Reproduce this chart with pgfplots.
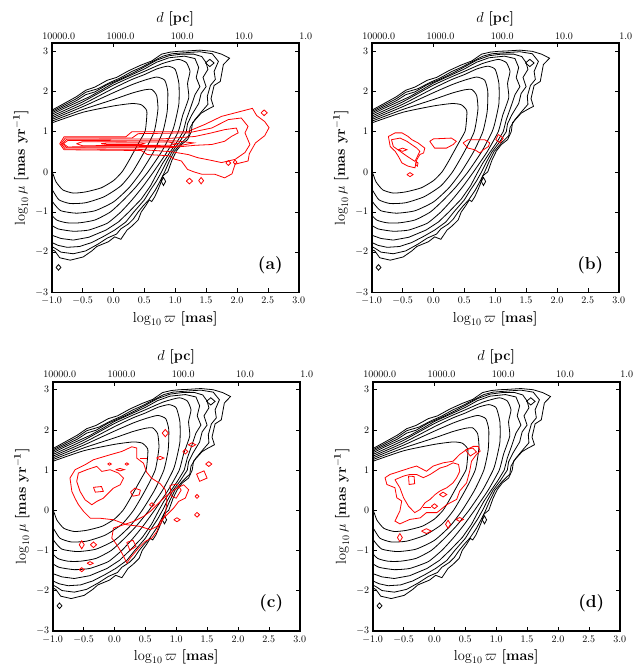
\documentclass[border=0pt]{standalone}
\usepackage{pgfplots}
\pgfplotsset{compat=1.18}
\pgfplotsset{
 base/.style={scale only axis, width=247pt, height=249pt, xmin=-1, xmax=3, ymin=-3, ymax=3.2,
   tick align=inside, major tick length=4pt, tick style={black, line width=0.6pt},
   axis line style={line width=1.6pt}, label style={font=\Large}},
 main/.style={base, xtick={-1,-0.5,...,3}, ytick={-3,-2,...,3}, xtick pos=left, ytick pos=both,
   xticklabel style={yshift=-1.5pt,/pgf/number format/.cd,fixed,fixed zerofill,precision=1},
   xlabel={$\log_{10}\varpi$ \textbf{[mas]}},
   ylabel={$\log_{10}\mu$ \textbf{[mas yr}$^{\mathbf{-1}}$\textbf{]}}},
 topax/.style={base, axis x line*=top, axis y line=none, xtick={-1,0,1,2,3},
   xticklabels={10000.0,1000.0,100.0,10.0,1.0}, xticklabel style={xshift=7pt},
   xlabel={$d$ \textbf{[pc]}}, tick align=inside},
 bc/.style={black, line width=0.8pt, mark=none},
 rc/.style={red, line width=0.8pt, mark=none},
}
\newcommand{\blackcontours}{%
\addplot[bc,smooth,tension=0.35] coordinates {(-1.05,1.19) (-0.5,1.48) (0,1.64) (0.3,1.70) (0.45,1.67) (0.54,1.52) (0.53,1.2) (0.51,1.0) (0.42,0.75) (0.33,0.5) (0.24,0.25) (0.14,0.0) (0.0,-0.22) (-0.2,-0.4) (-0.45,-0.5) (-0.65,-0.53) (-0.82,-0.45) (-0.93,-0.25) (-0.98,-0.05) (-1.05,0.15)};
\addplot[bc,smooth,tension=0.35] coordinates {(-1.05,1.23) (-0.5,1.55) (0,1.8) (0.3,1.96) (0.5,2.04) (0.62,2.05) (0.7,1.9) (0.72,1.55) (0.66,1.0) (0.5,0.5) (0.31,0.0) (0.12,-0.35) (-0.15,-0.62) (-0.45,-0.77) (-0.7,-0.79) (-0.88,-0.7) (-0.97,-0.5) (-1.05,-0.3)};
\addplot[bc,smooth,tension=0.35] coordinates {(-1.05,1.27) (-0.5,1.62) (0,1.97) (0.3,2.17) (0.5,2.28) (0.7,2.36) (0.83,2.28) (0.88,2.0) (0.87,1.5) (0.8,1.0) (0.65,0.5) (0.45,0.0) (0.25,-0.4) (0.0,-0.75) (-0.3,-0.97) (-0.6,-1.03) (-0.85,-0.97) (-0.96,-0.8) (-1.05,-0.6)};
\addplot[bc,smooth,tension=0.35] coordinates {(-1.05,1.31) (-0.5,1.68) (0,2.08) (0.3,2.3) (0.5,2.42) (0.7,2.56) (0.88,2.63) (1.0,2.55) (1.06,2.2) (1.06,1.7) (1.0,1.25) (0.95,1.0) (0.78,0.5) (0.56,0.0) (0.35,-0.4) (0.15,-0.72) (-0.05,-1.0) (-0.3,-1.2) (-0.55,-1.27) (-0.75,-1.27) (-0.92,-1.2) (-1.05,-1.0)};
\addplot[bc,smooth,tension=0.3] coordinates {(-1.05,1.35) (-0.5,1.74) (0,2.16) (0.3,2.37) (0.5,2.5) (0.8,2.7) (1.05,2.8) (1.18,2.72) (1.24,2.5) (1.2,2.2) (1.22,1.85) (1.12,1.4) (1.05,1.0) (0.87,0.5) (0.65,0.0) (0.47,-0.38) (0.3,-0.7) (0.12,-1.0) (-0.1,-1.28) (-0.4,-1.45) (-0.65,-1.48) (-0.9,-1.42) (-1.05,-1.28)};
\addplot[bc] coordinates {(-1.05,1.39) (-0.8,1.58) (-0.6,1.72) (-0.4,1.86) (-0.2,2.03) (0,2.21) (0.2,2.35) (0.5,2.56) (0.7,2.73) (0.9,2.84) (1.15,2.88) (1.32,2.82) (1.38,2.6) (1.34,2.35) (1.4,2.12) (1.32,1.92) (1.25,1.6) (1.18,1.3) (1.13,1.0) (1.02,0.72) (0.92,0.5) (0.8,0.22) (0.72,0.0) (0.6,-0.35) (0.45,-0.68) (0.25,-1.0) (0.08,-1.25) (-0.12,-1.45) (-0.4,-1.63) (-0.65,-1.7) (-0.85,-1.66) (-1.05,-1.55)};
\addplot[bc] coordinates {(-1.05,1.43) (-0.8,1.62) (-0.6,1.77) (-0.45,1.92) (-0.3,1.99) (-0.1,2.17) (0.1,2.3) (0.3,2.45) (0.5,2.61) (0.7,2.78) (0.9,2.89) (1.1,2.93) (1.3,2.93) (1.43,2.87) (1.5,2.72) (1.53,2.55) (1.45,2.35) (1.5,2.12) (1.42,1.95) (1.38,1.7) (1.27,1.42) (1.2,1.2) (1.18,1.0) (1.06,0.72) (0.95,0.5) (0.86,0.25) (0.78,0.0) (0.7,-0.22) (0.6,-0.45) (0.5,-0.7) (0.33,-1.0) (0.2,-1.25) (0.02,-1.45) (-0.15,-1.6) (-0.35,-1.76) (-0.55,-1.86) (-0.75,-1.88) (-0.9,-1.83) (-1.05,-1.72)};
\addplot[bc] coordinates {(-1.05,1.46) (-0.8,1.66) (-0.6,1.82) (-0.45,1.98) (-0.25,2.07) (-0.05,2.23) (0.1,2.33) (0.3,2.5) (0.45,2.6) (0.6,2.72) (0.8,2.88) (0.95,2.94) (1.2,2.97) (1.4,2.99) (1.6,2.94) (1.7,2.75) (1.63,2.5) (1.65,2.3) (1.57,2.15) (1.52,1.88) (1.53,1.68) (1.44,1.52) (1.32,1.3) (1.24,1.1) (1.22,0.9) (1.1,0.72) (0.98,0.5) (0.9,0.25) (0.83,0.0) (0.76,-0.22) (0.68,-0.45) (0.57,-0.7) (0.48,-0.85) (0.4,-1.0) (0.32,-1.18) (0.24,-1.3) (0.12,-1.42) (0.05,-1.55) (-0.1,-1.65) (-0.25,-1.8) (-0.45,-1.97) (-0.65,-2.04) (-0.85,-2.0) (-0.95,-1.9) (-1.05,-1.82)};
\addplot[bc] coordinates {(-1.05,1.49) (-0.8,1.7) (-0.6,1.87) (-0.45,2.03) (-0.3,2.11) (-0.1,2.28) (0.05,2.35) (0.25,2.52) (0.45,2.66) (0.62,2.76) (0.78,2.93) (0.92,2.98) (1.05,3.0) (1.2,3.01) (1.4,3.03) (1.6,3.0) (1.75,2.93) (1.88,2.83) (1.78,2.67) (1.73,2.25) (1.63,2.15) (1.58,1.82) (1.62,1.63) (1.52,1.55) (1.42,1.46) (1.28,1.22) (1.26,1.0) (1.2,0.8) (1.1,0.68) (1.02,0.52) (0.95,0.3) (0.88,0.0) (0.8,-0.1) (0.76,-0.3) (0.72,-0.45) (0.67,-0.62) (0.62,-0.74) (0.58,-0.7) (0.52,-0.85) (0.45,-1.0) (0.4,-1.2) (0.3,-1.35) (0.22,-1.45) (0.12,-1.68) (0.02,-1.62) (-0.08,-1.74) (-0.27,-1.86) (-0.35,-1.97) (-0.49,-2.12) (-0.7,-2.2) (-0.87,-2.14) (-0.95,-1.97) (-1.05,-1.9)};
\addplot[bc] coordinates {(1.49,2.71) (1.56,2.8) (1.63,2.71) (1.56,2.62) (1.49,2.71)};
\addplot[bc] coordinates {(0.775,-0.24) (0.81,-0.14) (0.845,-0.24) (0.81,-0.34) (0.775,-0.24)};
\addplot[bc] coordinates {(-0.93,-2.38) (-0.89,-2.31) (-0.85,-2.38) (-0.89,-2.45) (-0.93,-2.38)};
}
\newcommand{\rdiam}[4]{\addplot[rc] coordinates {(#1-#3,#2) (#1,#2+#4) (#1+#3,#2) (#1,#2-#4) (#1-#3,#2)};}
\begin{document}
\begin{tikzpicture}
\useasboundingbox (0pt,0pt) rectangle (634pt,-666pt);
% ---------- (a)
\begin{axis}[topax, at={(51.7pt,-43.3pt)}, anchor=north west]
\end{axis}
\begin{axis}[main, at={(51.7pt,-43.3pt)}, anchor=north west]
\blackcontours
\addplot[rc] coordinates {(-0.87,0.70) (-0.8,0.87) (0.2,0.87) (0.3,1.0) (1.2,1.0) (1.48,1.18) (1.75,1.38) (2.05,1.5) (2.25,1.58) (2.32,1.4) (2.45,1.25) (2.52,1.1) (2.45,0.9) (2.3,0.72) (2.2,0.45) (2.18,0.27) (1.97,0.19) (1.92,-0.05) (1.8,-0.15) (1.64,-0.06) (1.43,-0.06) (1.3,0.0) (1.2,0.06) (1.1,0.27) (0.98,0.32) (0.9,0.4) (0.55,0.43) (0.45,0.53) (-0.8,0.55) (-0.87,0.70)};
\addplot[rc] coordinates {(-0.85,0.70) (-0.78,0.84) (0.3,0.84) (0.4,0.95) (1.21,0.97) (1.59,1.09) (1.86,1.3) (2.07,1.34) (2.18,1.13) (2.13,0.97) (2.21,0.68) (2.13,0.48) (1.97,0.31) (1.75,0.23) (1.6,0.28) (1.37,0.35) (1.21,0.43) (0.94,0.5) (0.4,0.56) (-0.78,0.57) (-0.85,0.70)};
\addplot[rc] coordinates {(-0.83,0.70) (-0.76,0.81) (0.8,0.82) (1.32,0.88) (1.59,0.97) (1.8,1.05) (1.99,1.09) (2.02,0.97) (1.91,0.88) (1.8,0.76) (1.59,0.68) (1.32,0.66) (0.9,0.6) (-0.76,0.6) (-0.83,0.70)};
\addplot[rc] coordinates {(-0.81,0.70) (-0.74,0.78) (1.0,0.77) (1.3,0.72) (1.0,0.63) (-0.74,0.62) (-0.81,0.70)};
\addplot[rc] coordinates {(-0.6,0.70) (-0.5,0.75) (0.9,0.74) (1.05,0.7) (0.9,0.66) (-0.5,0.65) (-0.6,0.70)};
\addplot[rc] coordinates {(-0.2,0.70) (-0.1,0.72) (0.45,0.72) (0.5,0.70) (0.45,0.68) (-0.1,0.68) (-0.2,0.70)};
\rdiam{2.44}{1.47}{0.05}{0.07}
\rdiam{1.23}{-0.23}{0.05}{0.07}
\rdiam{1.42}{-0.22}{0.04}{0.08}
\rdiam{1.86}{0.22}{0.04}{0.06}
\rdiam{1.97}{0.24}{0.03}{0.05}
\node[font=\LARGE\bfseries] at (rel axis cs:0.885,0.11) {(a)};
\end{axis}
% ---------- (b)
\begin{axis}[topax, at={(371.7pt,-43.3pt)}, anchor=north west]
\end{axis}
\begin{axis}[main, at={(371.7pt,-43.3pt)}, anchor=north west]
\blackcontours
\addplot[rc] coordinates {(-0.73,0.88) (-0.70,0.63) (-0.62,0.51) (-0.57,0.39) (-0.51,0.22) (-0.41,0.14) (-0.30,0.10) (-0.27,0.30) (-0.22,0.43) (-0.16,0.47) (-0.14,0.59) (-0.25,0.72) (-0.35,0.80) (-0.41,0.88) (-0.51,0.97) (-0.62,0.97) (-0.73,0.88)};
\addplot[rc] coordinates {(-0.68,0.80) (-0.65,0.63) (-0.54,0.51) (-0.43,0.39) (-0.30,0.26) (-0.22,0.51) (-0.27,0.59) (-0.43,0.76) (-0.54,0.84) (-0.68,0.80)};
\addplot[rc] coordinates {(-0.57,0.55) (-0.5,0.59) (-0.43,0.55) (-0.5,0.51) (-0.57,0.55)};
\addplot[rc] coordinates {(-0.28,0.26) (-0.25,0.22) (-0.26,0.14) (-0.29,0.18) (-0.28,0.26)};
\rdiam{-0.38}{-0.07}{0.05}{0.05}
\addplot[rc] coordinates {(-0.06,0.76) (0.02,0.59) (0.21,0.59) (0.32,0.68) (0.37,0.76) (0.29,0.84) (0.0,0.82) (-0.06,0.76)};
\addplot[rc] coordinates {(0.48,0.72) (0.56,0.59) (0.67,0.55) (0.75,0.47) (0.81,0.55) (0.89,0.63) (0.91,0.72) (0.83,0.80) (0.56,0.80) (0.48,0.72)};
\addplot[rc] coordinates {(1.05,0.93) (1.13,0.84) (1.08,0.72) (1.01,0.80) (1.05,0.93)};
\node[font=\LARGE\bfseries] at (rel axis cs:0.885,0.11) {(b)};
\end{axis}
% ---------- (c)
\begin{axis}[topax, at={(52.7pt,-381.7pt)}, anchor=north west]
\end{axis}
\begin{axis}[main, at={(52.7pt,-381.7pt)}, anchor=north west]
\blackcontours
\addplot[rc] coordinates {(-0.638,1.008) (-0.476,1.132) (-0.340,1.257) (-0.07,1.381) (0.12,1.464) (0.282,1.58) (0.36,1.55) (0.36,1.3) (0.47,1.17) (0.52,0.95) (0.6,0.8) (0.742,0.659) (0.823,0.51) (0.85,0.219) (0.823,-0.113) (0.742,-0.362) (0.58,-0.486) (0.417,-0.403) (0.201,-0.362) (-0.016,-0.237) (-0.232,-0.2) (-0.39,-0.2) (-0.5,-0.03) (-0.584,0.14) (-0.64,0.3) (-0.69,0.47) (-0.72,0.8) (-0.638,1.008)};
\addplot[rc] coordinates {(-0.584,0.925) (-0.449,1.008) (-0.286,1.091) (-0.205,0.966) (-0.070,1.008) (0.065,0.925) (0.147,0.800) (0.093,0.634) (-0.016,0.551) (-0.097,0.427) (-0.178,0.302) (-0.286,0.219) (-0.367,0.136) (-0.476,0.261) (-0.557,0.468) (-0.611,0.717) (-0.584,0.925)};
\addplot[rc] coordinates {(-0.34,0.57) (-0.21,0.59) (-0.18,0.47) (-0.31,0.45) (-0.34,0.57)};
\addplot[rc] coordinates {(0.02,1.01) (0.09,1.04) (0.16,1.01) (0.09,0.98) (0.02,1.01)};
\rdiam{-0.08}{1.15}{0.03}{0.03}
\rdiam{0.2}{1.15}{0.03}{0.03}
\addplot[rc] coordinates {(0.42,1.3) (0.52,1.3)};
\addplot[rc] coordinates {(-0.016,-0.445) (0.147,-0.362) (0.309,-0.279) (0.471,-0.154) (0.580,-0.030) (0.688,0.136) (0.796,0.302) (0.904,0.427) (1.012,0.551) (1.121,0.634) (1.202,0.510) (1.148,0.302) (1.040,0.219) (0.958,0.053) (0.850,-0.113) (0.742,-0.279) (0.688,-0.527) (0.607,-0.693) (0.498,-0.776) (0.390,-0.943) (0.255,-1.191) (0.201,-1.316) (0.120,-1.067) (0.038,-0.859) (-0.043,-0.693) (-0.016,-0.445)};
\rdiam{0.823}{1.92}{0.05}{0.09}
\rdiam{1.148}{1.46}{0.04}{0.06}
\rdiam{1.256}{1.63}{0.06}{0.05}
\rdiam{1.527}{1.15}{0.05}{0.06}
\addplot[rc] coordinates {(1.33,0.9) (1.45,0.98) (1.5,0.8) (1.38,0.72) (1.33,0.9)};
\rdiam{1.337}{0.344}{0.03}{0.05}
\rdiam{1.337}{-0.113}{0.04}{0.06}
\rdiam{1.012}{-0.237}{0.05}{0.05}
\addplot[rc] coordinates {(0.26,0.45) (0.33,0.55) (0.42,0.5) (0.4,0.38) (0.3,0.35) (0.26,0.45)};
\rdiam{0.607}{0.136}{0.04}{0.05}
\rdiam{-0.53}{-0.86}{0.04}{0.1}
\rdiam{-0.34}{-0.86}{0.05}{0.07}
\rdiam{-0.53}{-1.48}{0.04}{0.05}
\rdiam{-0.395}{-1.32}{0.05}{0.04}
\addplot[rc] coordinates {(0.2,-0.8) (0.3,-0.75) (0.35,-0.9) (0.25,-1.0) (0.2,-0.8)};
\addplot[rc] coordinates {(0.9,0.62) (1.02,0.65) (1.08,0.5) (1.0,0.3) (0.92,0.35) (0.9,0.62)};
\addplot[rc] coordinates {(0.68,1.3) (0.74,1.34) (0.8,1.3) (0.74,1.26) (0.68,1.3)};
\node[font=\LARGE\bfseries] at (rel axis cs:0.885,0.11) {(c)};
\end{axis}
% ---------- (d)
\begin{axis}[topax, at={(372.7pt,-381.7pt)}, anchor=north west]
\end{axis}
\begin{axis}[main, at={(372.7pt,-381.7pt)}, anchor=north west]
\blackcontours
\addplot[rc] coordinates {(-0.80,0.81) (-0.77,0.64) (-0.64,0.56) (-0.61,0.31) (-0.53,0.23) (-0.56,-0.02) (-0.64,-0.27) (-0.56,-0.34) (-0.40,-0.23) (-0.23,-0.19) (-0.13,-0.06) (0.04,-0.06) (0.20,0.14) (0.36,0.27) (0.41,0.48) (0.52,0.68) (0.57,0.97) (0.60,1.22) (0.68,1.39) (0.74,1.47) (0.71,1.59) (0.63,1.59) (0.52,1.51) (0.41,1.39) (0.30,1.22) (0.14,1.18) (-0.02,1.10) (-0.13,0.97) (-0.29,1.10) (-0.40,1.05) (-0.56,0.97) (-0.72,0.89) (-0.80,0.81)};
\addplot[rc] coordinates {(-0.64,0.76) (-0.56,0.56) (-0.50,0.31) (-0.42,0.10) (-0.32,-0.06) (-0.23,0.02) (-0.15,0.19) (-0.07,0.27) (0.01,0.39) (0.09,0.48) (0.20,0.56) (0.30,0.68) (0.36,0.81) (0.41,0.97) (0.39,1.14) (0.30,1.18) (0.20,1.10) (0.09,1.05) (0.01,0.97) (-0.07,0.89) (-0.18,0.81) (-0.29,0.89) (-0.40,0.89) (-0.50,0.85) (-0.64,0.76)};
\addplot[rc] coordinates {(-0.42,0.85) (-0.33,0.84) (-0.32,0.66) (-0.41,0.64) (-0.42,0.85)};
\rdiam{-0.56}{-0.68}{0.04}{0.1}
\addplot[rc] coordinates {(-0.21,-0.52) (-0.13,-0.46) (-0.05,-0.52) (-0.13,-0.58) (-0.21,-0.52)};
\rdiam{0.22}{-0.35}{0.04}{0.1}
\rdiam{0.41}{-0.23}{0.06}{0.05}
\rdiam{0.0}{0.1}{0.05}{0.06}
\rdiam{0.14}{0.39}{0.06}{0.06}
\addplot[rc] coordinates {(0.5,1.5) (0.62,1.55) (0.68,1.45) (0.58,1.35) (0.5,1.5)};
\addplot[rc] coordinates {(-0.18,0.06) (-0.06,0.06)};
\node[font=\LARGE\bfseries] at (rel axis cs:0.885,0.11) {(d)};
\end{axis}
\end{tikzpicture}
\end{document}
